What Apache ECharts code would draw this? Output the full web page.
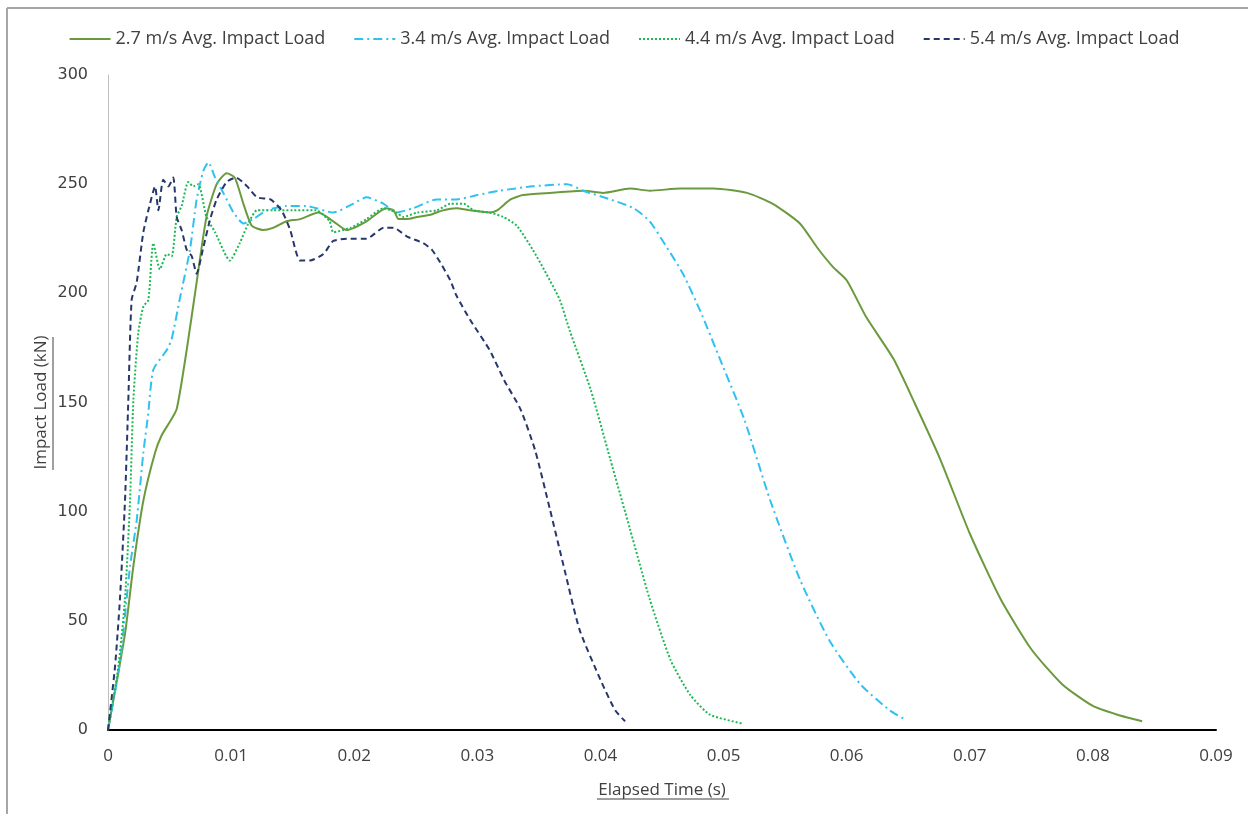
<!DOCTYPE html>
<html><head><meta charset="utf-8">
<script src="https://cdn.jsdelivr.net/npm/echarts@6/dist/echarts.min.js"></script>
<style>html,body{margin:0;padding:0;background:#fff}#c{width:1248px;height:814px}</style>
</head><body><div id="c"></div>
<script>
const seriesNames = ["2.7 m/s Avg. Impact Load","3.4 m/s Avg. Impact Load","4.4 m/s Avg. Impact Load","5.4 m/s Avg. Impact Load"];
const xTicks = [0,0.01,0.02,0.03,0.04,0.05,0.06,0.07,0.08,0.09];
const yTicks = [0,50,100,150,200,250,300];

const t27 = [0,0.00138,0.00206,0.00287,0.00382,0.00436,0.0049,0.00558,0.00639,0.0072,0.008,0.00883,0.00964,0.0103,0.011,0.01167,0.0126,0.0134,0.0145,0.0156,0.0171,0.0183,0.0194,0.021,0.0226,0.0232,0.0236,0.0243,0.0251,0.0262,0.0272,0.0283,0.0294,0.031,0.0316,0.0327,0.0337,0.0359,0.0386,0.0402,0.0424,0.044,0.0465,0.0492,0.0519,0.054,0.0562,0.0576,0.0589,0.06,0.0616,0.0638,0.0655,0.0676,0.07,0.0725,0.075,0.0775,0.08,0.082,0.084];
const v27 = [0,44,75,105,127,135,140,147,174,205,235,250,255,253,241,231,229,230,233,234,237,233,229,233,239,238,234,234,235,236,238,239,238,237,238,243,245,246,247,246,248,247,248,248,246,241,232,221,212,206,189,170,150,124,90,60,37,21,11,7,4];

const t34 = [0,0.00097,0.00179,0.00233,0.00287,0.00327,0.00368,0.00477,0.00517,0.00585,0.00666,0.0072,0.00774,0.00815,0.0087,0.00937,0.0102,0.011,0.0118,0.0129,0.0145,0.0161,0.0183,0.0199,0.021,0.0224,0.0234,0.0248,0.0267,0.0283,0.03,0.0318,0.0345,0.0373,0.0386,0.0408,0.0427,0.044,0.0454,0.0467,0.0481,0.0497,0.0517,0.0538,0.0562,0.0586,0.0611,0.0635,0.0647];
const v34 = [0,31,75,96,127,145,165,174,179,198,220,243,256,260,253,246,237,232,234,238,240,240,237,241,244,241,237,239,243,243,245,247,249,250,247,243,239,233,221,209,192,170,142,105,69,41,21,9,5];

const t44 = [0,0.00084,0.00138,0.00179,0.00206,0.00246,0.00287,0.00328,0.00368,0.00422,0.00477,0.00517,0.00558,0.00598,0.00652,0.00693,0.00734,0.008,0.0087,0.0099,0.0107,0.0114,0.0121,0.0134,0.015,0.0169,0.018,0.0183,0.0197,0.021,0.0224,0.0234,0.024,0.0251,0.0267,0.0278,0.0289,0.0297,0.031,0.0321,0.0332,0.0345,0.0356,0.0367,0.0375,0.0392,0.0408,0.0424,0.044,0.0457,0.0473,0.0489,0.0515];
const v44 = [0,29,60,105,151,182,194,197,223,211,218,217,235,240,251,249,250,235,228,215,223,232,238,238,238,238,233,228,230,234,239,237,235,237,238,241,241,238,237,235,231,220,209,197,183,156,124,92,60,32,16,7,3];

const t54 = [0,0.00057,0.00097,0.00138,0.00165,0.00192,0.00233,0.00287,0.00341,0.00382,0.00409,0.00449,0.0049,0.0053,0.00558,0.00598,0.00639,0.0068,0.0072,0.00774,0.0083,0.00883,0.00964,0.0104,0.0113,0.0121,0.0132,0.0141,0.0148,0.0156,0.0164,0.0175,0.0183,0.0197,0.021,0.0224,0.0232,0.0243,0.0256,0.0263,0.027,0.0278,0.0283,0.0294,0.031,0.0322,0.0335,0.0347,0.0359,0.0371,0.0383,0.04,0.0412,0.042];
const v54 = [0,29,60,105,151,197,205,228,241,249,238,252,249,253,235,229,220,217,209,221,234,243,251,253,249,244,243,238,229,215,215,218,224,225,225,230,230,226,223,220,214,206,199,188,174,160,147,128,101,73,46,23,9,4];

const zip = (a,b)=>a.map((x,i)=>[x,b[i]]);
const FONT = '"Open Sans",sans-serif';
const colors = ['#6b9a3e','#2ec1f2','#1db954','#26386b'];
const types = ['solid',[9,4,2,4],[2,2],[6,4]];
const dataSets = [zip(t27,v27),zip(t34,v34),zip(t44,v44),zip(t54,v54)];

const chart = echarts.init(document.getElementById('c'));
chart.setOption({
  animation:false,
  backgroundColor:'#fff',
  grid:{left:108,right:32,top:75,bottom:84},
  legend:{top:25,left:'center',itemWidth:41,itemHeight:14,itemGap:28,
    itemStyle:{opacity:0},
    textStyle:{fontFamily:FONT,fontSize:18,color:'#404040'},
    data:seriesNames},
  xAxis:{type:'value',min:0,max:0.09,interval:0.01,
    name:'Elapsed Time (s)',nameLocation:'middle',nameGap:52,
    nameTextStyle:{fontFamily:FONT,fontSize:17,color:'#404040'},
    axisLine:{lineStyle:{color:'#000',width:2}},axisTick:{show:false},splitLine:{show:false},
    axisLabel:{margin:18,fontFamily:FONT,fontSize:17,color:'#404040',formatter:v=>v===0?'0':v.toFixed(2)}},
  yAxis:{type:'value',min:0,max:300,interval:50,
    name:'Impact Load (kN)',nameLocation:'middle',nameGap:58,nameRotate:90,nameMoveOverlap:false,
    nameTextStyle:{fontFamily:FONT,fontSize:17,color:'#404040'},
    axisLine:{show:true,lineStyle:{color:'#bfbfbf',width:1}},axisTick:{show:false},splitLine:{show:false},
    axisLabel:{margin:20,fontFamily:'"DejaVu Sans",sans-serif',fontSize:16,color:'#404040'}},
  graphic:[
    {type:'line',shape:{x1:7,y1:8,x2:1248,y2:8},style:{stroke:'#a6a6a6',lineWidth:2},silent:true},
    {type:'line',shape:{x1:7,y1:8,x2:7,y2:814},style:{stroke:'#a6a6a6',lineWidth:2},silent:true},
    {type:'line',shape:{x1:597,y1:799,x2:729,y2:799},style:{stroke:'#404040',lineWidth:1},silent:true},
    {type:'line',shape:{x1:53,y1:337,x2:53,y2:470},style:{stroke:'#404040',lineWidth:1},silent:true}
  ],
  series:seriesNames.map((n,i)=>({name:n,type:'line',data:dataSets[i],showSymbol:false,symbol:'none',
    smooth:0.2,color:colors[i],lineStyle:{color:colors[i],width:2,type:types[i]}}))
});
</script></body></html>
